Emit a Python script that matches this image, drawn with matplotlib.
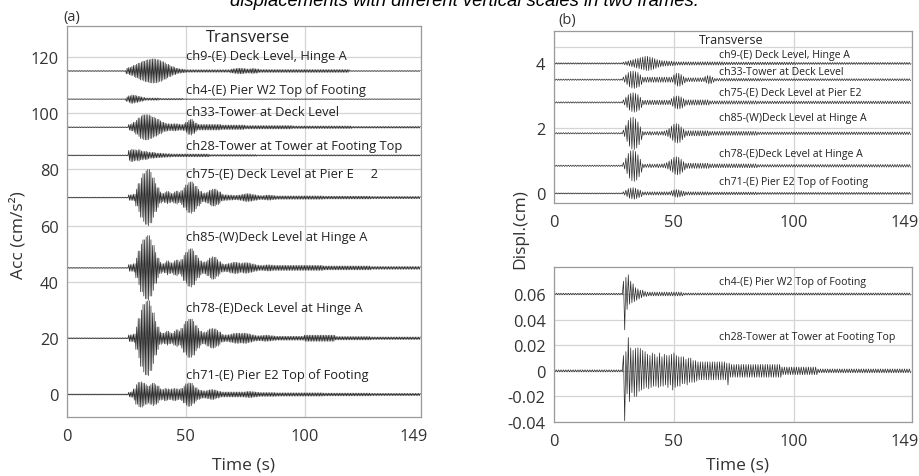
import matplotlib
matplotlib.use("Agg")
import matplotlib.pyplot as plt
import matplotlib.transforms as mtransforms
import numpy as np

plt.rcParams['font.family'] = ['Open Sans', 'DejaVu Sans']

# ---- data: per-second peak amplitudes ----
# (a) acceleration, cm/s^2, 3 extrema per second
acc_names = ["ch9-(E) Deck Level, Hinge A", "ch4-(E) Pier W2 Top of Footing",
             "ch33-Tower at Deck Level", "ch28-Tower at Tower at Footing Top",
             "ch75-(E) Deck Level at Pier E     2", "ch85-(W)Deck Level at Hinge A",
             "ch78-(E)Deck Level at Hinge A", "ch71-(E) Pier E2 Top of Footing"]
acc_base = [115, 105, 95, 85, 70, 45, 20, 0]
acc_label_y = [120.5, 108.5, 100.5, 88.5, 78.5, 56, 31, 7]

acc_ch9 = ([0.15] * 25 + [1.0, 1.3, 1.6, 2.0, 2.4, 2.8, 3.2]
           + [3.5, 3.8, 4.0, 4.2, 4.3, 4.2, 4.0, 3.7, 3.3, 2.9]
           + [2.4, 2.0, 1.6, 1.3, 1.0, 0.8, 0.7, 0.6]
           + [0.45] * 19 + [0.7, 0.8, 0.9, 1.0, 1.0, 0.9, 0.8, 0.7, 0.8, 0.9, 0.8, 0.7]
           + [0.5] * 38 + [0.15] * 30)
acc_ch4 = [0.12] * 25 + [0.8, 1.2, 1.5, 1.4, 1.2, 1.0, 0.8, 0.6] + [0.4] * 6 + [0.25] * 10 + [0.12] * 100
acc_ch33 = ([0.15] * 26 + [1.0, 1.3, 1.8, 2.5, 3.3, 4.0, 4.4, 4.5, 4.4, 4.0, 3.6, 3.2, 2.8, 2.3]
            + [1.8, 1.5, 1.3, 1.2, 1.2, 1.3, 1.2, 1.1, 1.0, 1.2] + [1.8, 2.5, 2.8, 2.2, 1.5]
            + [1.0] * 10 + [0.8] * 10 + [0.6] * 20 + [0.45] * 25 + [0.3] * 29)
acc_ch28 = ([0.15] * 26 + [1.8, 2.2, 2.0, 1.8, 2.0, 1.6, 1.4, 1.5, 1.2, 1.0, 1.1, 0.9, 0.8, 0.8, 0.7, 0.7, 0.6, 0.6]
            + [0.5] * 16 + [0.3] * 20 + [0.2] * 69)
acc_ch75 = ([0.15] * 26 + [1.0, 1.0, 1.2, 3.0, 5.0, 7.0, 8.5, 9.5, 10.0, 9.0, 7.0, 5.0, 3.5]
            + [2.0, 1.5, 1.8, 2.2, 1.8, 1.5, 2.0, 2.3, 1.8] + [2.5, 3.5, 4.5, 5.3, 5.6, 5.0, 4.0, 3.0, 2.2]
            + [1.5, 1.7, 2.0, 2.6, 3.0, 3.0, 2.5, 2.0] + [1.2, 1.0, 1.0, 0.9, 0.9, 0.8, 0.8, 0.9, 1.0]
            + [1.2, 1.4, 1.4, 1.3, 1.1, 1.0, 0.8] + [0.7, 0.7, 0.8, 0.9, 0.9, 0.8, 0.7]
            + [0.6] * 20 + [0.5] * 20 + [0.4] * 21)
acc_ch85 = ([0.15] * 26 + [1.2, 1.2, 1.5, 3.5, 6.0, 8.5, 10.0, 11.0, 11.5, 10.0, 8.0, 5.5, 3.5]
            + [2.0, 1.5, 1.8, 2.5, 2.0, 1.8, 2.5, 2.8, 2.2] + [3.0, 4.5, 5.5, 6.5, 6.8, 6.0, 4.5, 3.5, 2.5]
            + [2.0, 2.2, 2.8, 3.5, 4.0, 3.8, 3.0, 2.2] + [1.5, 1.3, 1.4, 1.6, 1.8, 2.0, 2.0, 1.8, 1.6]
            + [1.8, 1.9, 1.8, 1.6, 1.4, 1.2, 1.0] + [0.9, 0.9, 1.0, 1.1, 1.1, 1.0, 0.9]
            + [0.9] * 20 + [0.7] * 20 + [0.5] * 21)
acc_ch78 = ([0.15] * 26 + [1.2, 1.2, 1.5, 4.0, 7.0, 10.0, 12.0, 13.0, 13.3, 11.5, 9.0, 6.0, 4.0]
            + [2.2, 1.8, 2.0, 2.5, 2.0, 1.8, 2.5, 3.0, 2.5] + [3.5, 5.0, 6.0, 6.8, 6.8, 6.0, 4.5, 3.5, 2.5]
            + [2.0, 2.2, 2.8, 3.3, 3.5, 3.3, 2.8, 2.2] + [1.4, 1.2, 1.2, 1.3, 1.5, 1.7, 1.8, 1.8, 1.7]
            + [1.8, 1.8, 1.6, 1.4, 1.2, 1.0, 0.9] + [0.9, 1.0, 1.1, 1.1, 1.0, 0.9, 0.8]
            + [0.7] * 12 + [1.1] * 13 + [0.6] * 15 + [0.45] * 21)
acc_ch71 = ([0.15] * 26 + [0.8, 1.0, 2.0, 3.5, 4.3, 4.5, 4.0, 3.5, 3.0, 3.5, 4.0, 3.5, 3.0]
            + [2.0, 1.8, 2.2, 2.0, 1.8, 2.0, 2.2, 2.0, 1.8] + [2.2, 3.0, 3.8, 4.2, 4.0, 3.2, 2.4, 1.8, 1.5]
            + [1.3, 1.3, 1.5, 1.7, 1.8, 1.6, 1.3, 1.1] + [0.9] * 9
            + [0.9, 1.0, 1.1, 1.1, 1.0, 0.9, 0.8] + [0.7] * 7
            + [0.6] * 20 + [0.5] * 20 + [0.4] * 21)
acc_env = [acc_ch9, acc_ch4, acc_ch33, acc_ch28, acc_ch75, acc_ch85, acc_ch78, acc_ch71]

# (b) displacement, cm, 2 extrema per second
dis_names = ["ch9-(E) Deck Level, Hinge A", "ch33-Tower at Deck Level",
             "ch75-(E) Deck Level at Pier E2", "ch85-(W)Deck Level at Hinge A",
             "ch78-(E)Deck Level at Hinge A", "ch71-(E) Pier E2 Top of Footing"]
dis_base = [4.0, 3.5, 2.8, 1.85, 0.85, 0.0]
dis_label_y = [4.28, 3.74, 3.12, 2.33, 1.24, 0.38]

dis_ch9 = ([0.02] * 29 + [0.04, 0.06, 0.08, 0.10, 0.12, 0.14, 0.16, 0.18, 0.20, 0.22, 0.22, 0.20, 0.18, 0.15, 0.12, 0.10]
           + [0.09, 0.08, 0.08, 0.07, 0.07, 0.06] + [0.05] * 20 + [0.04] * 30 + [0.03] * 48)
dis_ch33 = ([0.02] * 29 + [0.08, 0.15, 0.22, 0.26, 0.27, 0.25, 0.22, 0.15] + [0.08] * 13
            + [0.15, 0.20, 0.20, 0.16, 0.10] + [0.06] * 8 + [0.10, 0.13, 0.12, 0.08]
            + [0.04] * 20 + [0.03] * 62)
dis_ch75 = ([0.02] * 29 + [0.08, 0.16, 0.24, 0.28, 0.30, 0.28, 0.24, 0.16] + [0.07] * 12
            + [0.12, 0.18, 0.20, 0.20, 0.17, 0.12] + [0.08] * 10 + [0.05] * 20 + [0.04] * 64)
dis_ch85 = ([0.02] * 29 + [0.10, 0.25, 0.40, 0.48, 0.50, 0.45, 0.35, 0.20]
            + [0.06, 0.05, 0.05, 0.06, 0.05, 0.05, 0.06, 0.05, 0.06, 0.07, 0.10, 0.15]
            + [0.22, 0.28, 0.30, 0.28, 0.20, 0.13] + [0.08] * 10 + [0.06] * 20 + [0.04] * 64)
dis_ch78 = ([0.02] * 29 + [0.10, 0.24, 0.38, 0.46, 0.48, 0.44, 0.34, 0.20]
            + [0.06, 0.05, 0.05, 0.06, 0.05, 0.05, 0.06, 0.05, 0.06, 0.07, 0.10, 0.15]
            + [0.20, 0.26, 0.28, 0.26, 0.20, 0.13] + [0.08] * 10 + [0.06] * 20 + [0.04] * 64)
dis_ch71 = ([0.015] * 29 + [0.05, 0.10, 0.15, 0.17, 0.18, 0.16, 0.13, 0.10] + [0.05] * 12
            + [0.08, 0.11, 0.12, 0.11, 0.09, 0.07] + [0.05] * 10 + [0.04] * 20 + [0.03] * 64)
dis_env = [dis_ch9, dis_ch33, dis_ch75, dis_ch85, dis_ch78, dis_ch71]

# (b) lower frame, cm, one extremum every 0.5 s (sign alternates, starting up)
low_names = ["ch4-(E) Pier W2 Top of Footing", "ch28-Tower at Tower at Footing Top"]
low_base = [0.06, 0.0]
low_label_y = [0.07, 0.027]
low_ch4 = ([0.0006] * 58
           + [0.010, 0.028, 0.013, 0.012, 0.015, 0.008, 0.010, 0.007, 0.008, 0.006,
              0.005, 0.005, 0.004, 0.004, 0.003, 0.003, 0.003, 0.002, 0.002, 0.002]
           + [0.0015] * 30 + [0.0008] * 190)
low_ch28 = ([0.0008] * 58
            + [0.012, 0.039, 0.015, 0.018, 0.026, 0.024, 0.018, 0.017, 0.016, 0.020,
               0.0175, 0.020, 0.018, 0.016, 0.0175, 0.015, 0.016, 0.014, 0.015, 0.013]
            + [0.013, 0.014, 0.012, 0.013, 0.014, 0.012, 0.013, 0.012, 0.011, 0.013,
               0.014, 0.012, 0.011, 0.012, 0.013, 0.011, 0.012, 0.013, 0.012, 0.011,
               0.013, 0.015, 0.014, 0.013, 0.012, 0.012, 0.011, 0.012]
            + [0.011, 0.010, 0.011, 0.010, 0.009, 0.011, 0.010, 0.009, 0.010, 0.009,
               0.008, 0.009, 0.008, 0.008]
            + [0.007] * 24 + [0.006, 0.011, 0.006, 0.005] + [0.005] * 42
            + [0.003] * 30 + [0.0015] * 78)
low_env = [low_ch4, low_ch28]

x_ticks = [0, 50, 100, 149]

LINE = '#2b2b2b'
GRID = '#d4d4d4'
SPINE = '#9a9a9a'
TXT = '#333333'


def zigzag(env, per_sec, base, step=1.0):
    # each listed amplitude is one swing; sign alternates between swings
    mags = np.repeat(np.asarray(env, dtype=float), per_sec)
    signs = np.where(np.arange(len(mags)) % 2 == 0, 1.0, -1.0)
    t = np.arange(len(mags)) * step / per_sec
    return t, base + signs * mags


def style_axes(ax, yticks, ylabels=None):
    ax.set_xlim(0, 149)
    ax.set_xticks(x_ticks)
    ax.set_yticks(yticks)
    if ylabels is not None:
        ax.set_yticklabels(ylabels)
    ax.grid(True, color=GRID, linewidth=0.9)
    ax.set_axisbelow(True)
    for s in ax.spines.values():
        s.set_color(SPINE)
        s.set_linewidth(0.9)
    ax.tick_params(labelsize=11.8, colors=TXT, length=0, pad=6)
    ax.tick_params(axis='x', pad=8)
    # the last label (149) sits a little left of the frame edge
    last = ax.get_xticklabels()[-1]
    last.set_transform(last.get_transform() + mtransforms.ScaledTranslation(-7 / 100, 0, fig.dpi_scale_trans))


fig = plt.figure(figsize=(9.2, 4.77), dpi=100)

# ---- (a) ----
ax_a = fig.add_axes([0.0728, 0.1237, 0.3848, 0.8197])
for env, base, name, ly in zip(acc_env, acc_base, acc_names, acc_label_y):
    t, y = zigzag(env, 3, base)
    ax_a.plot(t, y, color=LINE, linewidth=0.5)
    ax_a.text(50, ly, name, fontsize=9.3, va='center', ha='left', color='#222222')
ax_a.text(76, 127, "Transverse", fontsize=11.9, ha='center', va='center', color='#222222')
ax_a.set_ylim(-8, 131)
style_axes(ax_a, [0, 20, 40, 60, 80, 100, 120])

# ---- (b) upper ----
ax_b = fig.add_axes([0.602, 0.572, 0.389, 0.361])
for env, base, name, ly in zip(dis_env, dis_base, dis_names, dis_label_y):
    t, y = zigzag(env, 2, base)
    ax_b.plot(t, y, color=LINE, linewidth=0.5)
    ax_b.text(68.7, ly, name, fontsize=7.6, va='center', ha='left', color='#222222')
ax_b.axhline(4.5, color=GRID, linewidth=0.9, zorder=0)
ax_b.text(74, 4.74, "Transverse", fontsize=9, ha='center', va='center', color='#222222')
ax_b.set_ylim(-0.3, 5.0)
style_axes(ax_b, [0, 2, 4])

# ---- (b) lower ----
ax_c = fig.add_axes([0.602, 0.113, 0.389, 0.325])
for env, base, name, ly in zip(low_env, low_base, low_names, low_label_y):
    t, y = zigzag(env, 1, base, step=0.5)
    ax_c.plot(t, y, color=LINE, linewidth=0.5)
    ax_c.text(68.7, ly, name, fontsize=7.6, va='center', ha='left', color='#222222')
ax_c.set_ylim(-0.04, 0.081)
style_axes(ax_c, [-0.04, -0.02, 0, 0.02, 0.04, 0.06],
           ['-0.04', '-0.02', '0', '0.02', '0.04', '0.06'])

# ---- labels ----
fig.text(18 / 920, 0.507, "Acc (cm/s²)", rotation=90, fontsize=12.5, ha='center', va='center', color=TXT)
fig.text(520 / 920, 0.52, "Displ.(cm)", rotation=90, fontsize=12.5, ha='center', va='center', color=TXT)
fig.text(244 / 920, 0.025, "Time (s)", fontsize=12.5, ha='center', va='center', color=TXT)
fig.text(738 / 920, 0.025, "Time (s)", fontsize=12.5, ha='center', va='center', color=TXT)
fig.text(72 / 920, 0.964, "(a)", fontsize=10.5, ha='center', va='center', color=TXT)
fig.text(567 / 920, 0.958, "(b)", fontsize=10.5, ha='center', va='center', color=TXT)
fig.text(464 / 920, 0.988, "displacements with different vertical scales in two frames.",
         fontsize=13.3, style='italic', family='Liberation Sans', ha='center', va='baseline')

fig.savefig("out.png", dpi=100)
